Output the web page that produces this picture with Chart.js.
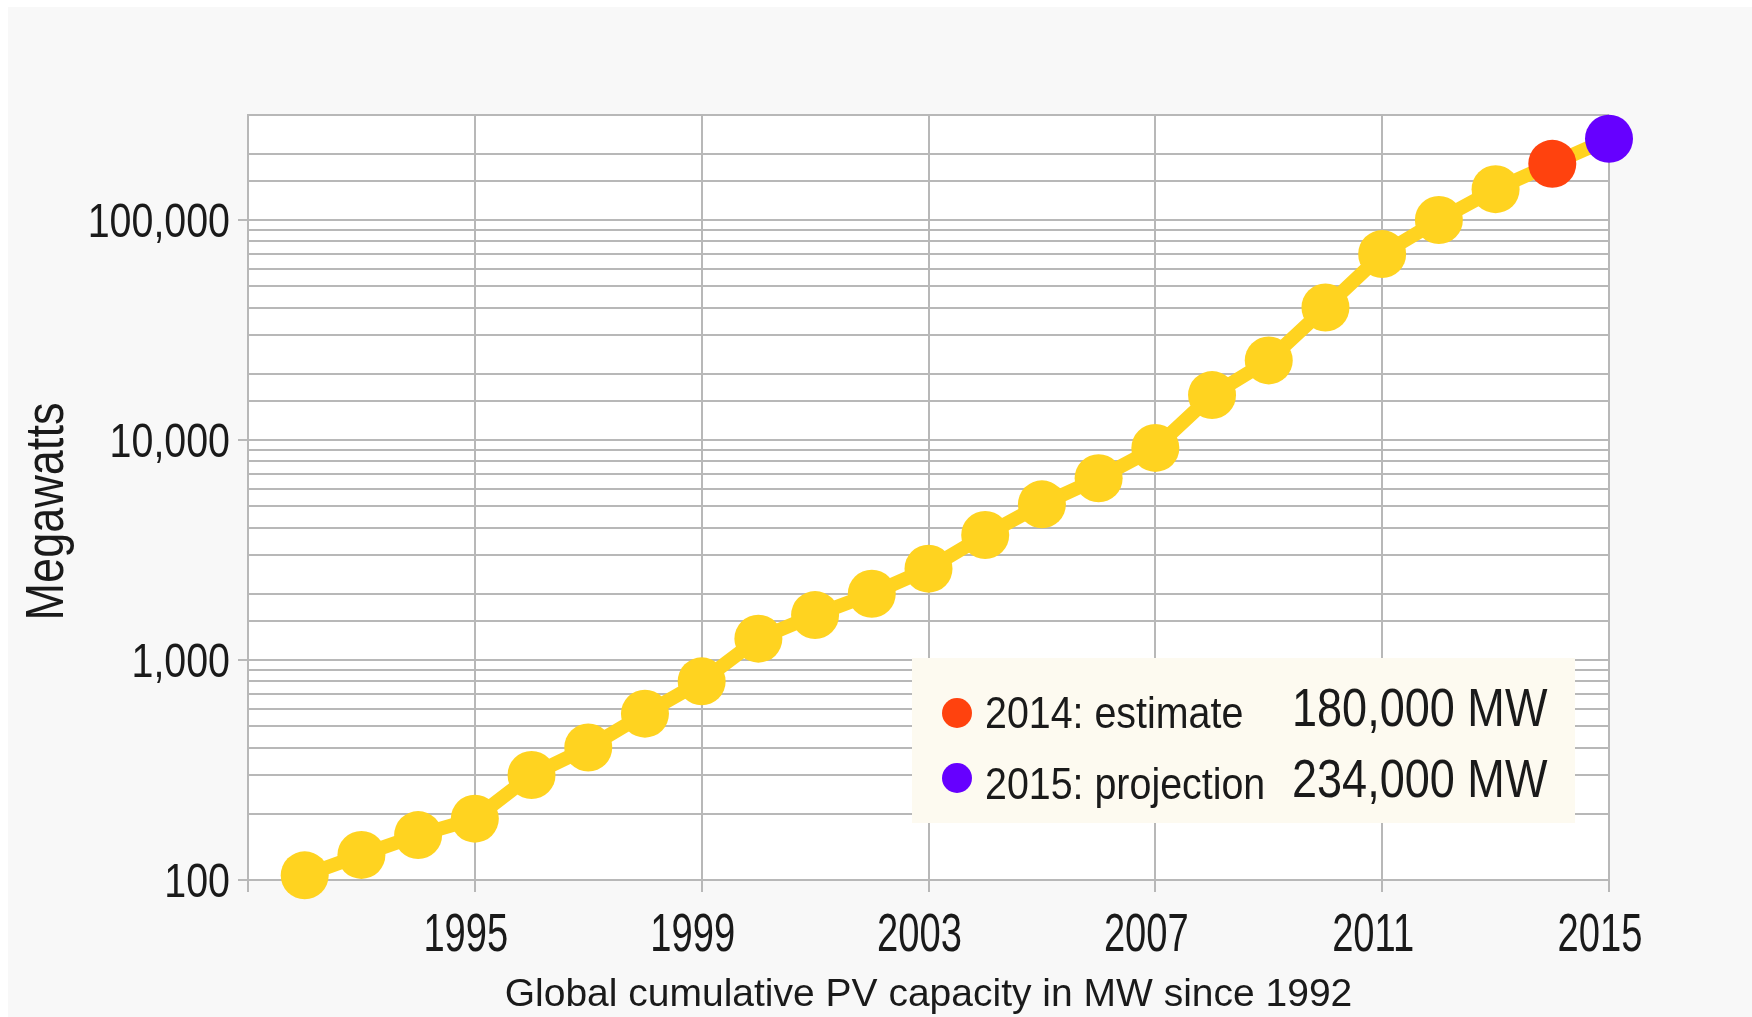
<!DOCTYPE html>
<html>
<head>
<meta charset="utf-8">
<title>Global cumulative PV capacity</title>
<script src="https://cdn.jsdelivr.net/npm/chart.js@4.4.1/dist/chart.umd.min.js"></script>
<style>
  html, body { margin: 0; padding: 0; background: #fff; overflow: hidden; }
  #frame { position: absolute; left: 8px; top: 7px; right: 0; bottom: 0; background: #f8f8f8; }
  #wrap { position: absolute; left: 0; top: 0; width: 1752px; height: 1017px; }
</style>
</head>
<body>
<div id="frame"></div>
<div id="wrap"><canvas id="pvChart" width="1752" height="1017"></canvas></div>
<script>
// cumulative installed PV, MW
const years = [1992, 1993, 1994, 1995, 1996, 1997, 1998, 1999, 2000, 2001, 2002, 2003,
               2004, 2005, 2006, 2007, 2008, 2009, 2010, 2011, 2012, 2013, 2014, 2015];
const capacityMW = [105, 130, 160, 190, 300, 400, 570, 800, 1250, 1600, 2000, 2600,
                    3700, 5100, 6700, 9200, 16000, 23000, 40000, 70000, 100000, 138000, 180000, 234000];
const yearTicks = [1995, 1999, 2003, 2007, 2011, 2015];
const noteYears = [2014, 2015];
const noteKinds = ['estimate', 'projection'];

const FONT = "'Liberation Sans', Arial, sans-serif";
const INK = '#1a1a1a';
const GRID = '#b8b8b8';
const YELLOW = '#ffd320';
const NOTE_COLORS = ['#ff420e', '#6600ff'];

function isDecade(v) {
  const l = Math.log10(v);
  return Math.abs(l - Math.round(l)) < 1e-9;
}

function pointColor(ctx) {
  const i = noteYears.indexOf(years[ctx.dataIndex]);
  return i >= 0 ? NOTE_COLORS[i] : YELLOW;
}

// text squeezed horizontally by sx (narrow face look)
function drawText(ctx, text, x, y, size, sx, align) {
  ctx.save();
  ctx.translate(x, y);
  ctx.scale(sx, 1);
  ctx.font = size + 'px ' + FONT;
  ctx.textAlign = align;
  ctx.textBaseline = 'alphabetic';
  ctx.fillStyle = INK;
  ctx.fillText(text, 0, 0);
  ctx.restore();
}

// white plotting area on the grey page
const plotBackground = {
  id: 'plotBackground',
  beforeDraw(chart) {
    const { ctx, chartArea: a } = chart;
    ctx.save();
    ctx.fillStyle = '#ffffff';
    ctx.fillRect(a.left, a.top, a.right - a.left, a.bottom - a.top);
    ctx.restore();
  }
};

// tick labels and the y title, in the narrow style
const axisText = {
  id: 'axisText',
  afterDraw(chart) {
    const { ctx, chartArea: a, scales: { x, y } } = chart;
    x.ticks.forEach(t => {
      if (!yearTicks.includes(t.value)) return;
      drawText(ctx, String(t.value), x.getPixelForValue(t.value) - 9, a.bottom + 71, 53, 0.72, 'center');
    });
    y.ticks.forEach(t => {
      if (!isDecade(t.value)) return;
      drawText(ctx, t.value.toLocaleString('en-US'), a.left - 18, y.getPixelForValue(t.value) + 17, 48, 0.82, 'right');
    });
    ctx.save();
    ctx.translate(63, (a.top + a.bottom) / 2 + 14);
    ctx.rotate(-Math.PI / 2);
    drawText(ctx, 'Megawatts', 0, 0, 53, 0.85, 'center');
    ctx.restore();
  }
};

// note box with the 2014 / 2015 values
const noteBox = {
  id: 'noteBox',
  afterDraw(chart) {
    const { ctx, chartArea: a } = chart;
    const left = a.left + 664, top = a.top + 543;
    const right = a.right - 34, bottom = a.bottom - 57;
    ctx.save();
    ctx.fillStyle = '#fdfaf0';
    ctx.fillRect(left, top, right - left, bottom - top);
    noteYears.forEach((yr, i) => {
      const base = top + 70 + i * 71;
      ctx.fillStyle = NOTE_COLORS[i];
      ctx.beginPath();
      ctx.arc(left + 45, base - 15 - i * 6, 15, 0, Math.PI * 2);
      ctx.fill();
      drawText(ctx, yr + ': ' + noteKinds[i], left + 73, base, 45, 0.875, 'left');
      const v = capacityMW[years.indexOf(yr)];
      drawText(ctx, v.toLocaleString('en-US') + ' MW', left + 380, base - 2, 53, 0.85, 'left');
    });
    ctx.restore();
  }
};

new Chart(document.getElementById('pvChart'), {
  type: 'line',
  data: {
    datasets: [{
      data: years.map((y, i) => ({ x: y, y: capacityMW[i] })),
      borderColor: YELLOW,
      borderWidth: 14,
      tension: 0,
      pointRadius: 24,
      pointHoverRadius: 24,
      pointBorderWidth: 0,
      pointBackgroundColor: pointColor,
      clip: false
    }]
  },
  options: {
    responsive: false,
    animation: false,
    devicePixelRatio: 1,
    events: [],
    layout: { padding: { top: 115, right: 143, left: 0, bottom: 0 } },
    plugins: { legend: { display: false }, tooltip: { enabled: false } },
    scales: {
      x: {
        type: 'linear',
        min: 1991,
        max: 2015,
        afterBuildTicks: s => { s.ticks = [1991, ...yearTicks].map(v => ({ value: v })); },
        afterFit: s => { s.height = 137; },
        border: { color: GRID, width: 2 },
        grid: { color: GRID, lineWidth: 2, tickLength: 12, tickColor: GRID },
        ticks: { display: false },
        title: {
          display: true,
          text: 'Global cumulative PV capacity in MW since 1992',
          color: INK,
          font: { family: FONT, size: 39, lineHeight: 1.1 },
          padding: 0
        }
      },
      y: {
        type: 'logarithmic',
        min: 100,
        max: 300000,
        afterFit: s => { s.width = 248; },
        border: { color: GRID, width: 2 },
        grid: {
          color: GRID,
          lineWidth: 2,
          tickLength: 10,
          tickColor: ctx => ctx.tick && isDecade(ctx.tick.value) ? GRID : 'rgba(0,0,0,0)'
        },
        ticks: { display: false, autoSkip: false }
      }
    }
  },
  plugins: [plotBackground, axisText, noteBox]
});
</script>
</body>
</html>
